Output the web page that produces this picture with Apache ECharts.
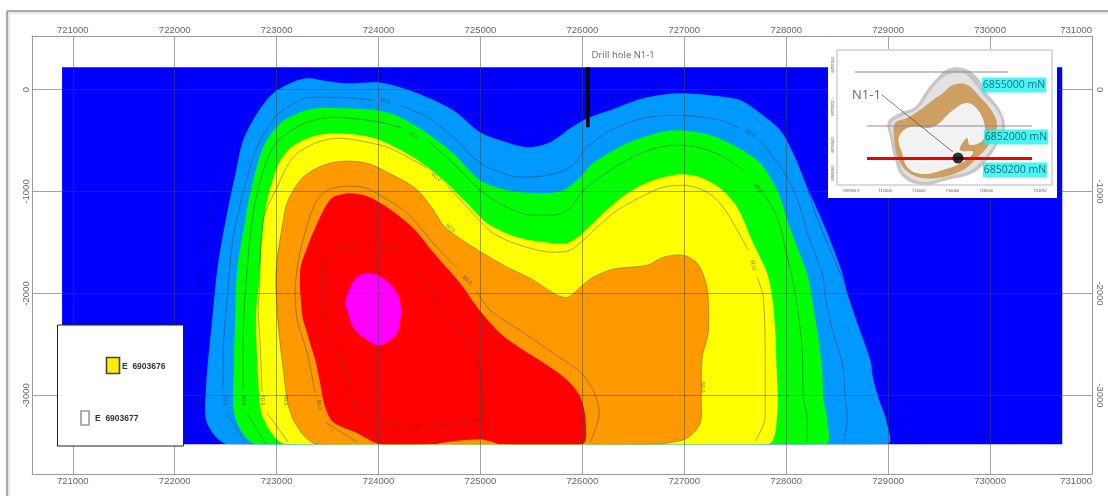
<!DOCTYPE html>
<html><head><meta charset="utf-8">
<style>html,body{margin:0;padding:0;background:#fff}#c{width:1108px;height:496px;filter:blur(0.35px)}</style>
<script src="https://cdn.jsdelivr.net/npm/echarts@6/dist/echarts.min.js"></script>
</head><body><div id="c"></div>
<script>
const GAP = ['-','-'];
const eastTicks = [721000,722000,723000,724000,725000,726000,727000,728000,729000,730000,731000];
const depthTicks = [0,-1000,-2000,-3000];

const fieldBlue = [[720895,218],[730708,218],[730708,-3478],[720895,-3478]];
const bandLightBlue = [[722524,-3480],[722318,-3272],[722308,-2919],[722367,-2262],[722426,-1703],[722514,-1213],[722603,-792],[722671,-498],[722809,-233],[722966,-37],[723133,61],[723300,110],[723496,81],[723692,61],[723986,71],[724212,22],[724477,-76],[724732,-203],[724997,-419],[725194,-498],[725459,-566],[725684,-517],[725880,-380],[726047,-282],[726273,-203],[726597,-86],[726930,-37],[727254,-56],[727549,-105],[727745,-233],[727941,-400],[728069,-625],[728206,-958],[728383,-1360],[728550,-1801],[728599,-1998],[728697,-2292],[728824,-2654],[728854,-2850],[728922,-3076],[728981,-3243],[728991,-3480]];
const bandGreen = [[722809,-3480],[722593,-3213],[722583,-2654],[722593,-2262],[722613,-1772],[722691,-1282],[722740,-1017],[722868,-566],[723035,-331],[723231,-223],[723398,-184],[723653,-184],[723986,-203],[724212,-272],[724477,-429],[724732,-625],[724997,-890],[725262,-988],[725615,-1017],[725812,-988],[725979,-860],[726106,-723],[726440,-527],[726764,-419],[726960,-400],[727254,-449],[727519,-566],[727745,-723],[727912,-988],[728020,-1311],[728216,-1841],[728255,-2066],[728314,-2429],[728353,-2752],[728363,-3017],[728402,-3243],[728383,-3480]];
const bandYellow = [[723103,-3480],[722868,-3223],[722819,-2821],[722799,-2213],[722829,-1870],[722888,-1184],[723005,-762],[723133,-576],[723329,-468],[723555,-429],[723820,-449],[724016,-498],[724340,-664],[724605,-860],[724870,-1115],[725066,-1311],[725360,-1449],[725713,-1507],[725851,-1507],[725979,-1429],[726204,-1213],[726440,-1017],[726695,-890],[726960,-831],[727156,-860],[727352,-968],[727519,-1155],[727676,-1507],[727813,-1801],[727862,-2037],[727892,-2360],[727902,-2654],[727912,-3174],[727813,-3480]];
const bandOrange = [[723407,-3480],[723152,-3213],[723054,-2654],[723005,-2164],[722995,-1772],[723054,-1351],[723113,-1086],[723260,-860],[723457,-743],[723653,-703],[723888,-723],[724084,-811],[724360,-968],[724527,-1164],[724634,-1331],[724752,-1429],[724978,-1576],[725262,-1743],[725488,-1851],[725753,-2017],[725861,-2037],[725979,-1939],[726106,-1841],[726302,-1762],[726636,-1723],[726793,-1645],[726989,-1625],[727126,-1703],[727205,-1870],[727234,-2037],[727234,-2390],[727176,-2625],[727166,-3017],[727156,-3272],[727028,-3419],[726832,-3468],[726665,-3480]];
const bandRed = [[724016,-3480],[723790,-3370],[723555,-3262],[723476,-3115],[723427,-2880],[723378,-2654],[723300,-2390],[723251,-2213],[723231,-1772],[723300,-1546],[723398,-1311],[723476,-1154],[723555,-1056],[723722,-1017],[723888,-1047],[724084,-1154],[724340,-1360],[724536,-1596],[724801,-1900],[724968,-2135],[725194,-2390],[725420,-2556],[725655,-2704],[725851,-2850],[725979,-3017],[726028,-3213],[725998,-3480],[725194,-3480],[725095,-3449],[724997,-3429],[724732,-3449],[724507,-3480]];
const bandMagenta = [[723888,-1801],[724045,-1850],[724183,-1998],[724222,-2164],[724212,-2262],[724183,-2390],[724065,-2488],[723986,-2507],[723849,-2429],[723751,-2331],[723692,-2164],[723673,-2096],[723722,-1939],[723790,-1841]];

const contour10 = [[729217,-3478],[729197,-3243],[729000,-2978],[728854,-2527],[728658,-2096],[728559,-1870],[728363,-1410],[728265,-1155],[728010,-331],[727873,-203],[727617,-7],[727254,12],[726930,22],[726597,-7],[726273,-105],[726047,-203],[725782,-301],[725518,-419],[725194,-380],[724997,-331],[724732,-135],[724477,12],[724212,110],[723986,159],GAP,[723653,159],[723329,189],[723103,120],[722907,-7],[722740,-203],[722573,-498],[722446,-860],[722318,-1351],[722250,-1674],[722220,-2262],[722220,-2949],[722250,-3292],[722397,-3478]];
const contour20 = [[722691,-3458],[722514,-3174],GAP,[722475,-2949],[722475,-2586],[722514,-2066],[722573,-1449],[722671,-1017],[722809,-566],[723005,-252],[723231,-105],[723329,-76],[723623,-76],[723947,-105],GAP,[724212,-154],[724477,-272],[724732,-468],[724997,-723],[725194,-811],[725390,-860],[725655,-841],[725880,-762],[726047,-566],[726273,-400],[726597,-282],[726862,-252],[727087,-262],[727352,-301],[727549,-380],GAP,[727745,-498],[727873,-664],[728010,-860],[728137,-1155],[728206,-1410],[728353,-1801],[728383,-2037],[728461,-2390],[728550,-2684],[728579,-3017],[728599,-3243],[728559,-3458]];
const contour30 = [[722888,-3468],[722711,-3174],GAP,[722671,-2949],[722671,-2586],[722681,-2164],[722740,-1449],[722809,-1017],[722966,-566],[723231,-350],[723555,-272],[723820,-292],[724016,-321],[724242,-380],GAP,[724477,-498],[724732,-723],[724997,-988],[725262,-1155],[725518,-1233],[725713,-1233],[725880,-1164],[726008,-988],[726273,-792],[726597,-615],[726891,-547],[727087,-556],[727352,-645],[727578,-792],GAP,[727774,-1017],[727912,-1253],[728010,-1645],[728088,-1998],[728157,-2556],[728167,-3017],[728206,-3243],[728206,-3458]];
const contour40 = [[723113,-3458],[722907,-3174],GAP,[722858,-2968],[722838,-2488],[722819,-2164],[722829,-1998],[722868,-1282],[723005,-958],[723162,-664],[723398,-517],[723623,-478],[723888,-517],[724114,-576],[724340,-694],[724477,-772],GAP,[724673,-939],[724870,-1155],[725125,-1409],[725390,-1527],[725713,-1596],[725880,-1576],[726008,-1478],[726302,-1213],[726567,-1057],[726793,-958],[726989,-939],[727225,-1007],[727382,-1155],[727519,-1380],[727627,-1576],GAP,[727715,-1841],[727774,-2037],[727794,-2654],[727794,-3213],[727696,-3449]];
const contour60 = [[723790,-3458],[723476,-3262],GAP,[723378,-2978],[723300,-2586],[723202,-2262],[723182,-1998],[723202,-1743],[723260,-1478],[723378,-1115],[723496,-988],[723692,-949],[723849,-958],[724045,-1056],[724281,-1213],[724536,-1507],[724771,-1752],GAP,[724968,-1988],[725095,-2164],[725459,-2409],[725714,-2586],[725979,-2772],[726106,-2949],[726165,-3174],[726077,-3458]];
const contour70 = [[724281,-3311],[724016,-3272],[723849,-3213],[723751,-3017],[723623,-2625],[723447,-2164],[723457,-1674],[723623,-1546],[723888,-1507],[724084,-1527],[724281,-1674],[724507,-1939],[724634,-2164],[724801,-2360],[724997,-2723],[725017,-3213],[724997,-3243],[724477,-3301]];

const contourLabels = [
 [723790,140,'10.0',-3],[724065,-115,'20.0',-12],[724340,-449,'30.0',-30],[724566,-860,'40.0',-38],
 [724703,-1360,'50.0',-42],[724870,-1870,'60.0',-45],[727647,-429,'20.0',-30],[727725,-968,'30.0',-55],
 [727676,-1723,'40.0',-78],[727176,-2919,'50.0',-90],[722220,-3040,'10.0',-90],[722485,-3047,'20.0',-90],
 [722671,-3047,'30.0',-90],[722858,-3047,'40.0',-90],[723083,-3047,'50.0',-90],[723417,-3095,'60.0',-80],
 [724379,-3311,'70.0',3]
];

const drillHole = [[726054,218],[726054,-370]];
const drillLabel = [[726400,336,'Drill hole N1-1']];

const insetEastTicks = [709985,712000,714000,716000,718000,721190];
const insetEastNames = ['709984.9','712000','714000','716000','718000','721190'];
const insetNorthTicks = [6855390,6853000,6850940,6849390];
const insetHalo = [[715736,6855167],[716625,6855222],[717456,6854722],[718049,6853833],[718820,6852889],[719116,6851944],[718820,6851222],[718049,6850111],[717218,6849389],[715677,6849000],[714253,6848722],[713067,6849167],[712593,6850111],[712297,6851389],[712178,6852222],[712890,6852722],[713779,6853056],[714491,6854000],[715143,6854722]];
const insetShell = [[715855,6854889],[716625,6854944],[717337,6854333],[717930,6853611],[718701,6852778],[718938,6851944],[718642,6851222],[717871,6850222],[717100,6849556],[715617,6849167],[714313,6848889],[713186,6849333],[712771,6850222],[712474,6851389],[712356,6852111],[713008,6852556],[713898,6852944],[714609,6853833],[715202,6854500]];
const insetOre = [[715439,6853833],[716032,6854278],[716863,6854278],[717634,6853611],[718404,6852722],[718642,6851944],[718227,6851056],[717456,6850222],[716625,6849556],[715439,6849167],[714253,6849111],[713364,6849444],[712771,6850222],[712534,6851389],[712593,6852167],[713305,6852444],[714076,6852889],[714846,6853444]];
const insetCore = [[713483,6851944],[714846,6851944],[716032,6852889],[716863,6853278],[717515,6852889],[717930,6851944],[717811,6851222],[717041,6850944],[716863,6851333],[716448,6850667],[717218,6850556],[716625,6850000],[715439,6849556],[714253,6849333],[713364,6849667],[713008,6850500],[712830,6851389]];
const section1 = [[710221,6855000],[719294,6855000]];
const section2 = [[710933,6852000],[720717,6852000]];
const section3 = [[710933,6850200],[720717,6850200]];
const leader = [[711822,6853722],[716032,6850556]];
const holePoint = [[716329,6850222]];
const insetNote = [[710900,6853680,'N1-1']];
const insetTags = [[719650,6854278,'6855000 mN'],[719768,6851389,'6852000 mN'],[719709,6849556,'6850200 mN']];

const legendNames = ['E  6903676','E  6903677'];

const FIELD = {x0:720895,x1:730708,top:218,bottom:-3478};
function poly(data,fill,z,smooth,xi,yi,clip,stroke){
  return {type:'custom',silent:true,z:z,xAxisIndex:xi||0,yAxisIndex:yi||0,data:data,clip:true,
    encode:{x:0,y:1},
    renderItem:function(p,api){
      if(p.dataIndex!==0) return;
      const pts=data.map(d=>api.coord(d));
      const el={type:'polygon',shape:{points:pts,smooth:smooth},style:{fill:fill,stroke:stroke||null,lineWidth:stroke?0.8:0}};
      if(clip){
        const a=api.coord([FIELD.x0,FIELD.top]),b=api.coord([FIELD.x1,FIELD.bottom]);
        el.clipPath={type:'rect',shape:{x:a[0],y:a[1],width:b[0]-a[0],height:b[1]-a[1]}};
      }
      return el;
    }};
}
function contour(data,color){
  return {type:'line',silent:true,z:3,data:data,showSymbol:false,smooth:0.3,connectNulls:false,
    lineStyle:{color:color,width:0.8},itemStyle:{opacity:0}};
}
function insetLine(data,color,width,z){
  return {type:'line',silent:true,z:z,xAxisIndex:2,yAxisIndex:2,data:data,showSymbol:false,
    lineStyle:{color:color,width:width},itemStyle:{opacity:0}};
}
const axLine={show:true,onZero:false,lineStyle:{color:'#9a9a9a',width:1}};
const plain=v=>String(v);
const lab={color:'#666',fontSize:9.5,fontFamily:'Liberation Sans',formatter:plain};
const xBase={type:'value',min:720600,max:731000,z:4,axisLine:axLine,axisTick:{show:false,customValues:eastTicks}};
const yBase={type:'value',min:-3771,max:525,z:4,axisLine:axLine,axisTick:{show:false,customValues:depthTicks}};
const split={show:true,lineStyle:{color:'rgba(70,70,70,0.5)',width:1}};

const option={
  animation:false,backgroundColor:'#fff',
  grid:[
    {left:32,right:16,top:36,bottom:22},
    {left:837,top:50,width:215,height:135,show:true,backgroundColor:'#fff',borderColor:'#d0d0d0',borderWidth:1.5,z:16}
  ],
  xAxis:[
    Object.assign({},xBase,{gridIndex:0,position:'bottom',splitLine:split,
      axisLabel:Object.assign({},lab,{customValues:eastTicks,margin:2,alignMaxLabel:'right'})}),
    Object.assign({},xBase,{gridIndex:0,position:'top',splitLine:{show:false},
      axisLabel:Object.assign({},lab,{customValues:eastTicks,margin:1,alignMaxLabel:'right'})}),
    {type:'value',gridIndex:1,min:709154,max:721903,z:17,axisLine:{show:false},splitLine:{show:false},
      axisTick:{show:false,customValues:insetEastTicks},
      axisLabel:{customValues:insetEastTicks,fontSize:4,color:'#555',margin:4,
        formatter:v=>insetEastNames[insetEastTicks.indexOf(v)]}}
  ],
  yAxis:[
    Object.assign({},yBase,{gridIndex:0,position:'left',splitLine:split,
      axisLabel:Object.assign({},lab,{customValues:depthTicks,rotate:90,margin:1})}),
    Object.assign({},yBase,{gridIndex:0,position:'right',splitLine:{show:false},
      axisLabel:Object.assign({},lab,{customValues:depthTicks,rotate:-90,margin:3})}),
    {type:'value',gridIndex:1,min:6848722,max:6856222,z:17,axisLine:{show:false},splitLine:{show:false},
      axisTick:{show:false,customValues:insetNorthTicks},
      axisLabel:{customValues:insetNorthTicks,fontSize:4,color:'#555',rotate:90,margin:2,formatter:plain}}
  ],
  graphic:[
    {type:'line',z:1,silent:true,shape:{x1:7,y1:11,x2:7,y2:496},style:{stroke:'#8c8c8c',lineWidth:1.5}},
    {type:'line',z:1,silent:true,shape:{x1:7,y1:11,x2:1108,y2:11},style:{stroke:'#8c8c8c',lineWidth:1.5}},
    {type:'line',z:1,silent:true,shape:{x1:9,y1:13,x2:9,y2:496},style:{stroke:'#d0d0d0',lineWidth:1}},
    {type:'line',z:1,silent:true,shape:{x1:9,y1:13,x2:1108,y2:13},style:{stroke:'#d0d0d0',lineWidth:1}},
    {type:'rect',z:15,silent:true,shape:{x:828,y:49,width:229,height:149},style:{fill:'#fff'}},
    {type:'rect',z:30,silent:true,shape:{x:57.5,y:325,width:126,height:121},style:{fill:'#fff',stroke:'#222',lineWidth:1}},
    {type:'rect',z:31,silent:true,shape:{x:106.5,y:357.5,width:13,height:16},style:{fill:'#ffee00',stroke:'#444',lineWidth:1.6}},
    {type:'text',z:31,silent:true,x:122,y:367,style:{text:legendNames[0],font:'bold 8.5px "Liberation Sans"',fill:'#333',verticalAlign:'middle'}},
    {type:'rect',z:31,silent:true,shape:{x:81,y:411,width:8,height:14},style:{fill:'#fff',stroke:'#999',lineWidth:1.6}},
    {type:'text',z:31,silent:true,x:95,y:419,style:{text:legendNames[1],font:'bold 8.5px "Liberation Sans"',fill:'#333',verticalAlign:'middle'}}
  ],
  series:[
    poly(fieldBlue,'#0000ff',2,0),
    poly(bandLightBlue,'#0099ff',2,0.3,0,0,true),
    poly(bandGreen,'#00ff00',2,0.3,0,0,true),
    poly(bandYellow,'#ffff00',2,0.3,0,0,true),
    poly(bandOrange,'#ff9900',2,0.3,0,0,true,'rgba(90,70,20,0.55)'),
    poly(bandRed,'#ff0000',2,0.3,0,0,true),
    poly(bandMagenta,'#ff00ff',2,0.4,0,0,true),
    contour(contour10,'rgba(0,0,110,0.5)'),
    contour(contour20,'rgba(50,60,80,0.65)'),
    contour(contour30,'rgba(50,80,60,0.65)'),
    contour(contour40,'rgba(90,90,70,0.65)'),
    contour(contour60,'rgba(100,80,50,0.7)'),
    contour(contour70,'rgba(120,50,50,0.65)'),
    {type:'scatter',silent:true,z:5,symbolSize:0,
      data:contourLabels.map(d=>({value:d.slice(0,3),label:{rotate:d[3]}})),
      label:{show:true,position:'inside',fontSize:5.5,color:'rgba(50,50,50,0.85)',fontFamily:'Liberation Sans',formatter:p=>p.value[2]}},
    {type:'line',silent:true,z:6,data:drillHole,showSymbol:false,lineStyle:{color:'#000',width:3.5,cap:'butt'},itemStyle:{opacity:0}},
    {type:'scatter',silent:true,z:6,symbolSize:0,data:drillLabel,
      label:{show:true,position:'inside',fontSize:9.5,color:'#444',fontFamily:'Open Sans',formatter:p=>p.value[2]}},

    poly(insetHalo,'#c6c6c6',18,0.4,2,2),
    poly(insetShell,'#e2e2e2',18.5,0.4,2,2),
    poly(insetOre,'#cd9f63',19,0.4,2,2),
    poly(insetCore,'#f2f2f2',20,0.4,2,2),
    insetLine(section1,'#888',1,21),
    insetLine(section2,'#8a8a9a',1,21),
    insetLine(leader,'#444',0.7,21),
    insetLine(section3,'#f00000',3,22),
    {type:'scatter',silent:true,z:23,xAxisIndex:2,yAxisIndex:2,data:holePoint,symbolSize:11,itemStyle:{color:'#000'}},
    {type:'scatter',silent:true,z:23,xAxisIndex:2,yAxisIndex:2,symbolSize:0,data:insetNote,
      label:{show:true,position:'inside',fontSize:13,color:'#444',fontFamily:'Open Sans',formatter:p=>p.value[2]}},
    {type:'scatter',silent:true,z:23,xAxisIndex:2,yAxisIndex:2,symbolSize:0,data:insetTags,
      label:{show:true,position:'inside',fontSize:10.5,fontWeight:500,color:'#0a4f55',fontFamily:'Open Sans',
        backgroundColor:'#1ff2f2',padding:[2,1],formatter:p=>p.value[2]}}
  ]
};
const chart=echarts.init(document.getElementById('c'),null,{renderer:'canvas'});
chart.setOption(option);
</script></body></html>
